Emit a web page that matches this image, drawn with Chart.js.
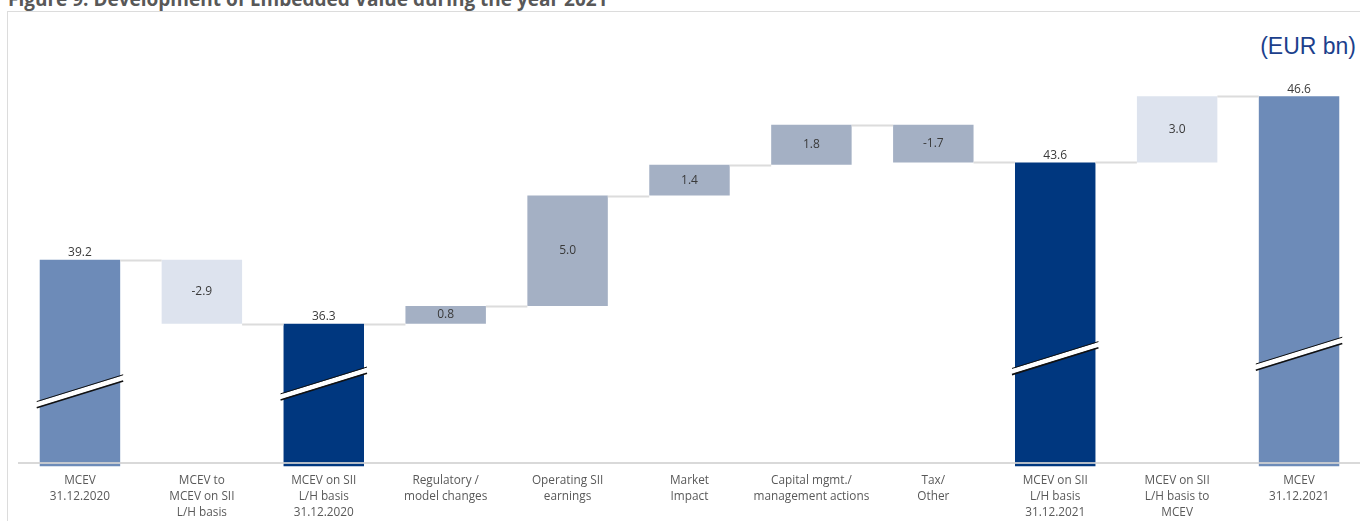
<!DOCTYPE html>
<html lang="en">
<head>
<meta charset="UTF-8">
<title>Development of Embedded Value during the year 2021</title>
<script src="https://cdn.jsdelivr.net/npm/chart.js@4/dist/chart.umd.min.js"></script>
<style>
    body {
        margin: 0;
        background: #fff;
        width: 1360px;
        height: 521px;
        overflow: hidden;
        position: relative;
        font-family: 'Open Sans', sans-serif;
    }
    .title {
        position: absolute;
        left: 8px;
        top: -11px;
        font: bold 19px 'Open Sans', sans-serif;
        line-height: 20px;
        color: #585858;
        white-space: nowrap;
    }
    .frame {
        position: absolute;
        left: 7px;
        top: 11px;
        width: 1360px;
        height: 520px;
        border: 1px solid #dcdcdc;
    }
    .unit {
        position: absolute;
        right: 4px;
        top: 33px;
        font: 23px 'Liberation Sans', sans-serif;
        color: #1c3f8c;
    }
    .chart-box {
        position: absolute;
        left: 0;
        top: 0;
        width: 1360px;
        height: 521px;
    }
</style>
</head>
<body>
    <div class="title">Figure 9: Development of Embedded Value during the year 2021</div>
    <div class="frame"></div>
    <div class="unit">(EUR bn)</div>
    <div class="chart-box"><canvas id="evChart"></canvas></div>

<script>
    // categories and values (EUR bn)
    const categories = [
        ['MCEV', '31.12.2020'],
        ['MCEV to', 'MCEV on SII', 'L/H basis'],
        ['MCEV on SII', 'L/H basis', '31.12.2020'],
        ['Regulatory /', 'model changes'],
        ['Operating SII', 'earnings'],
        ['Market', 'Impact'],
        ['Capital mgmt./', 'management actions'],
        ['Tax/', 'Other'],
        ['MCEV on SII', 'L/H basis', '31.12.2021'],
        ['MCEV on SII', 'L/H basis to', 'MCEV'],
        ['MCEV', '31.12.2021']
    ];
    const values = [39.2, -2.9, 36.3, 0.8, 5.0, 1.4, 1.8, -1.7, 43.6, 3.0, 46.6];
    const barKinds = ['mcev', 'adjust', 'sii', 'step', 'step', 'step', 'step', 'step', 'sii', 'adjust', 'mcev'];
    const valueLabels = ['39.2', '-2.9', '36.3', '0.8', '5.0', '1.4', '1.8', '-1.7', '43.6', '3.0', '46.6'];
    const axisMin = 30;
    const axisMax = 50;

    const kindColors = {
        mcev: '#6d8bb8',
        sii: '#00377f',
        adjust: '#dde3ee',
        step: '#a4b0c4'
    };

    // floating ranges for the waterfall
    const ranges = [];
    const levels = [];
    let level = 0;
    values.forEach((v, i) => {
        if (barKinds[i] === 'mcev' || barKinds[i] === 'sii') {
            level = v;
            ranges.push([axisMin - 0.15, v]);
        } else {
            const from = level;
            level = Math.round((level + v) * 10) / 10;
            ranges.push([from, level]);
        }
        levels.push(level);
    });

    // axis break marks on the total bars (value where the mark sits)
    const breakAt = {0: 33.25, 2: 33.6, 8: 34.75, 10: 34.95};

    const waterfallPlugin = {
        id: 'waterfall',
        afterDatasetsDraw(chart) {
            const ctx = chart.ctx;
            const meta = chart.getDatasetMeta(0);
            const y = chart.scales.y;

            // connectors
            ctx.save();
            ctx.strokeStyle = '#dcdcdc';
            ctx.lineWidth = 2;
            for (let i = 0; i < meta.data.length - 1; i++) {
                const a = meta.data[i], b = meta.data[i + 1];
                const py = Math.round(y.getPixelForValue(levels[i])) + 0.5;
                ctx.beginPath();
                ctx.moveTo(a.x + a.width / 2, py);
                ctx.lineTo(b.x - b.width / 2, py);
                ctx.stroke();
            }
            ctx.restore();

            // break marks
            ctx.save();
            Object.keys(breakAt).forEach(k => {
                const bar = meta.data[k];
                const yc = y.getPixelForValue(breakAt[k]);
                const x0 = bar.x - bar.width / 2 - 3;
                const x1 = bar.x + bar.width / 2 + 3;
                const h = (x1 - x0) * 0.155;
                ctx.lineCap = 'butt';
                ctx.strokeStyle = '#fff';
                ctx.lineWidth = 5;
                ctx.beginPath();
                ctx.moveTo(x0, yc + h);
                ctx.lineTo(x1, yc - h);
                ctx.stroke();
                ctx.strokeStyle = '#111';
                [[-3, 1], [3.2, 1.6]].forEach(([off, w]) => {
                    ctx.lineWidth = w;
                    ctx.beginPath();
                    ctx.moveTo(x0, yc + h + off);
                    ctx.lineTo(x1, yc - h + off);
                    ctx.stroke();
                });
            });
            ctx.restore();

            // value labels
            ctx.save();
            ctx.font = '12px "Open Sans", sans-serif';
            ctx.fillStyle = '#3a3a3a';
            ctx.textAlign = 'center';
            meta.data.forEach((bar, i) => {
                const kind = barKinds[i];
                if (kind === 'mcev' || kind === 'sii') {
                    ctx.textBaseline = 'bottom';
                    ctx.fillText(valueLabels[i], bar.x, y.getPixelForValue(values[i]) - 1);
                } else {
                    const r = ranges[i];
                    const mid = (y.getPixelForValue(r[0]) + y.getPixelForValue(r[1])) / 2;
                    ctx.textBaseline = 'middle';
                    ctx.fillText(valueLabels[i], bar.x, mid);
                }
            });
            ctx.restore();
        }
    };

    new Chart(document.getElementById('evChart'), {
        type: 'bar',
        data: {
            labels: categories,
            datasets: [{
                data: ranges,
                backgroundColor: barKinds.map(k => kindColors[k]),
                borderWidth: 0,
                categoryPercentage: 1,
                barPercentage: 0.66,
                clip: false
            }]
        },
        options: {
            responsive: true,
            maintainAspectRatio: false,
            animation: false,
            layout: { padding: { top: 21, left: 19, right: 0, bottom: 0 } },
            plugins: {
                legend: { display: false },
                tooltip: { enabled: false }
            },
            scales: {
                x: {
                    grid: { display: false, drawTicks: false },
                    border: { color: 'rgba(210,210,210,0.85)', width: 2, z: 1 },
                    ticks: {
                        color: '#595959',
                        padding: 10,
                        maxRotation: 0,
                        autoSkip: false,
                        font: { family: '"Open Sans", sans-serif', size: 11.8, lineHeight: 1.36 }
                    },
                    afterFit(scale) { scale.height = 58; }
                },
                y: {
                    display: false,
                    min: axisMin,
                    max: axisMax
                }
            }
        },
        plugins: [waterfallPlugin]
    });
</script>
</body>
</html>
